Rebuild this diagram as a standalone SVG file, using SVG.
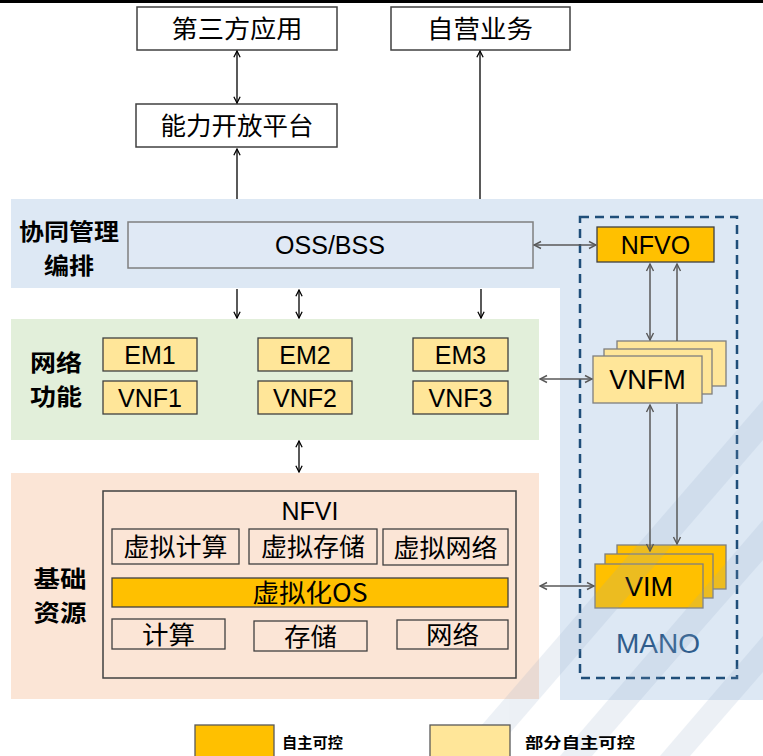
<svg xmlns="http://www.w3.org/2000/svg" width="763" height="756" viewBox="0 0 763 756">
<style>
.cjk{font-family:"Noto Sans CJK SC","Liberation Sans",sans-serif;}
.lat{font-family:"Liberation Sans","Noto Sans CJK SC",sans-serif;}
.t{font-size:25px;fill:#000;text-anchor:middle;}
.c{font-size:25px;fill:#000;text-anchor:middle;}
.lbl{font-size:23px;font-weight:bold;fill:#000;text-anchor:middle;}
.wbox{fill:#fff;stroke:#404040;stroke-width:1.5;}
.lt{fill:#ffe699;stroke:#404040;stroke-width:1.3;}
.or{fill:#ffc000;stroke:#404040;stroke-width:1.3;}
.ibox{fill:none;stroke:#404040;stroke-width:1.3;}
.k{stroke:#000;stroke-width:1.3;fill:none;}
.g{stroke:#595959;stroke-width:1.5;fill:none;}
</style>
<defs>
<marker id="ak" viewBox="0 0 10 10" refX="9" refY="5" markerWidth="9" markerHeight="9" markerUnits="userSpaceOnUse" orient="auto-start-reverse">
<path d="M2,1.5 L9,5 L2,8.5" fill="none" stroke="#000" stroke-width="1.4"/>
</marker>
<marker id="ag" viewBox="0 0 10 10" refX="9" refY="5" markerWidth="10" markerHeight="10" markerUnits="userSpaceOnUse" orient="auto-start-reverse">
<path d="M2,1.5 L9,5 L2,8.5" fill="none" stroke="#595959" stroke-width="1.4"/>
</marker>
</defs>
<rect x="0" y="0" width="763" height="756" fill="#fff"/>
<rect x="0" y="0" width="763" height="3" fill="#000"/>

<g id="bands">
<path d="M11,199 H763 V700 H560 V288 H11 Z" fill="#dde8f4"/>
<rect x="11" y="319" width="528" height="121" fill="#e2efda"/>
<rect x="11" y="473" width="528" height="226" fill="#fbe5d6"/>
</g>

<g id="labels">
<text class="cjk lbl" x="69" y="239.5" textLength="100" lengthAdjust="spacingAndGlyphs">协同管理</text>
<text class="cjk lbl" x="69" y="273.5" textLength="50" lengthAdjust="spacingAndGlyphs">编排</text>
<text class="cjk lbl" x="56" y="371" textLength="52" lengthAdjust="spacingAndGlyphs">网络</text>
<text class="cjk lbl" x="56" y="405" textLength="52" lengthAdjust="spacingAndGlyphs">功能</text>
<text class="cjk lbl" x="60" y="587" textLength="53" lengthAdjust="spacingAndGlyphs">基础</text>
<text class="cjk lbl" x="60" y="621" textLength="53" lengthAdjust="spacingAndGlyphs">资源</text>
</g>

<g id="third-party">
<rect class="wbox" x="137" y="7" width="200" height="43"/>
<text class="cjk c" x="237" y="38" textLength="131" lengthAdjust="spacingAndGlyphs">第三方应用</text>
</g>
<g id="self-service">
<rect class="wbox" x="391" y="7" width="179" height="43"/>
<text class="cjk c" x="480" y="38" textLength="106" lengthAdjust="spacingAndGlyphs">自营业务</text>
</g>
<g id="capability-platform">
<rect class="wbox" x="136" y="104" width="201" height="43"/>
<text class="cjk c" x="237" y="135" textLength="153" lengthAdjust="spacingAndGlyphs">能力开放平台</text>
</g>

<g id="oss-bss">
<rect x="128" y="222" width="405" height="46" fill="#e0e9f5" stroke="#7f7f7f" stroke-width="1.5"/>
<text class="lat t" x="330" y="254">OSS/BSS</text>
</g>

<g id="mano">
<rect x="580" y="217" width="157" height="461" fill="none" stroke="#1f4e79" stroke-width="2.5" stroke-dasharray="9 6"/>
<text class="lat" x="658" y="653" font-size="28" fill="#2f5d8c" text-anchor="middle">MANO</text>
</g>
<g id="nfvo">
<rect class="or" x="597" y="227" width="117" height="35"/>
<text class="lat t" x="655.5" y="253.5">NFVO</text>
</g>
<g id="vnfm">
<rect x="617" y="341" width="109" height="45" fill="#ffe699" stroke="#7f7f7f" stroke-width="1.3"/>
<rect x="604" y="349" width="108" height="45" fill="#ffe699" stroke="#7f7f7f" stroke-width="1.3"/>
<rect x="593" y="356" width="109" height="47" fill="#ffe699" stroke="#7f7f7f" stroke-width="1.3"/>
<text class="lat" x="647.5" y="389" font-size="27" text-anchor="middle">VNFM</text>
</g>
<g id="vim">
<rect x="617" y="545" width="109" height="44" fill="#ffc000" stroke="#7f7f7f" stroke-width="1.3"/>
<rect x="605" y="554" width="108" height="44" fill="#ffc000" stroke="#7f7f7f" stroke-width="1.3"/>
<rect x="595" y="564" width="108" height="44" fill="#ffc000" stroke="#7f7f7f" stroke-width="1.3"/>
<text class="lat" x="649" y="596" font-size="27" text-anchor="middle">VIM</text>
</g>

<g id="em1"><rect class="lt" x="103" y="338" width="94" height="33"/><text class="lat t" x="150" y="363.5">EM1</text></g>
<g id="vnf1"><rect class="lt" x="103" y="381" width="94" height="33"/><text class="lat t" x="150" y="406.5">VNF1</text></g>
<g id="em2"><rect class="lt" x="258" y="338" width="94" height="33"/><text class="lat t" x="305" y="363.5">EM2</text></g>
<g id="vnf2"><rect class="lt" x="258" y="381" width="94" height="33"/><text class="lat t" x="305" y="406.5">VNF2</text></g>
<g id="em3"><rect class="lt" x="413" y="338" width="95" height="33"/><text class="lat t" x="460.5" y="363.5">EM3</text></g>
<g id="vnf3"><rect class="lt" x="413" y="381" width="95" height="33"/><text class="lat t" x="460.5" y="406.5">VNF3</text></g>

<g id="nfvi">
<rect x="103" y="491" width="413" height="187" fill="none" stroke="#404040" stroke-width="1.5"/>
<text class="lat t" x="310" y="520">NFVI</text>
</g>
<g id="v-compute"><rect class="ibox" x="112" y="529" width="127" height="35"/><text class="cjk c" x="175.5" y="556" textLength="104" lengthAdjust="spacingAndGlyphs">虚拟计算</text></g>
<g id="v-storage"><rect class="ibox" x="249" y="529" width="128" height="35"/><text class="cjk c" x="313" y="556" textLength="104" lengthAdjust="spacingAndGlyphs">虚拟存储</text></g>
<g id="v-network"><rect class="ibox" x="383" y="529" width="125" height="36"/><text class="cjk c" x="445.5" y="556.5" textLength="104" lengthAdjust="spacingAndGlyphs">虚拟网络</text></g>
<g id="v-os"><rect class="or" x="112" y="578" width="396" height="29"/><text class="cjk c" x="310" y="602" textLength="115" lengthAdjust="spacingAndGlyphs">虚拟化OS</text></g>
<g id="compute"><rect class="ibox" x="112" y="619" width="113" height="30"/><text class="cjk c" x="168.5" y="643.5" textLength="53" lengthAdjust="spacingAndGlyphs">计算</text></g>
<g id="storage"><rect class="ibox" x="254" y="621" width="113" height="30"/><text class="cjk c" x="310.5" y="645.5" textLength="53" lengthAdjust="spacingAndGlyphs">存储</text></g>
<g id="network"><rect class="ibox" x="397" y="620" width="111" height="29"/><text class="cjk c" x="452.5" y="644" textLength="53" lengthAdjust="spacingAndGlyphs">网络</text></g>

<g id="watermark" fill="#8fa8c8" opacity="0.16">
<polygon points="455,756 490,756 763,440 763,400"/>
<polygon points="560,756 592,756 763,558 763,520"/>
<polygon points="660,756 690,756 763,672 763,636"/>
<polygon points="610,700 640,700 763,560 763,525"/>
</g>

<g id="legend">
<rect x="195" y="725" width="79" height="40" fill="#ffc000" stroke="#595959" stroke-width="1.3"/>
<text class="cjk" x="282" y="748" font-size="15" font-weight="bold" textLength="61" lengthAdjust="spacingAndGlyphs">自主可控</text>
<rect x="430" y="725" width="80" height="40" fill="#ffe699" stroke="#595959" stroke-width="1.3"/>
<text class="cjk" x="525" y="748" font-size="15" font-weight="bold" textLength="110" lengthAdjust="spacingAndGlyphs">部分自主可控</text>
</g>

<g id="connectors">
<line class="k" x1="237" y1="51" x2="237" y2="103" marker-start="url(#ak)" marker-end="url(#ak)"/>
<line class="k" x1="237" y1="199" x2="237" y2="149" marker-end="url(#ak)"/>
<line class="k" x1="480" y1="199" x2="480" y2="51" marker-end="url(#ak)"/>
<line class="k" x1="237" y1="289" x2="237" y2="318" marker-end="url(#ak)"/>
<line class="k" x1="299" y1="290" x2="299" y2="318" marker-start="url(#ak)" marker-end="url(#ak)"/>
<line class="k" x1="481" y1="289" x2="481" y2="318" marker-end="url(#ak)"/>
<line class="k" x1="299" y1="441" x2="299" y2="472" marker-start="url(#ak)" marker-end="url(#ak)"/>
<line class="g" x1="534" y1="245" x2="596" y2="245" marker-start="url(#ag)" marker-end="url(#ag)"/>
<line class="g" x1="540" y1="379" x2="592" y2="379" marker-start="url(#ag)" marker-end="url(#ag)"/>
<line class="g" x1="540" y1="586" x2="594" y2="586" marker-start="url(#ag)" marker-end="url(#ag)"/>
<line class="g" x1="650" y1="264" x2="650" y2="340" marker-start="url(#ag)" marker-end="url(#ag)"/>
<line class="g" x1="677" y1="341" x2="677" y2="264" marker-end="url(#ag)"/>
<line class="g" x1="650" y1="405" x2="650" y2="551" marker-start="url(#ag)" marker-end="url(#ag)"/>
<line class="g" x1="677" y1="404" x2="677" y2="544" marker-end="url(#ag)"/>
</g>
</svg>
